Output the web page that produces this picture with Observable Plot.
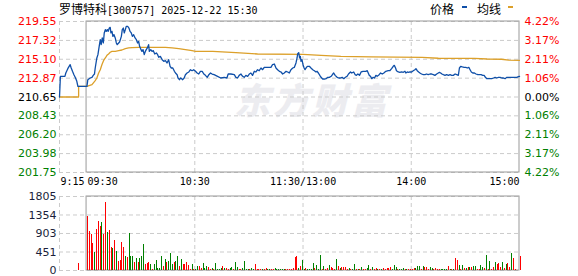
<!DOCTYPE html>
<html><head><meta charset="utf-8">
<script src="https://cdn.jsdelivr.net/npm/d3@7"></script>
<script src="https://cdn.jsdelivr.net/npm/@observablehq/plot@0.6"></script>
<style>
html,body{margin:0;padding:0;background:#fff;}
#wrap{position:relative;width:578px;height:276px;overflow:hidden;background:#fff;}
#price,#vol{position:absolute;left:0;}
#price{top:0;}
#vol{top:190px;}
.hdr{position:absolute;top:2px;line-height:14px;white-space:nowrap;color:#000;}
.cjk{font-family:"Noto Sans CJK SC";font-size:12px;}
.asc{font-family:"DejaVu Sans Mono";font-size:10px;}
.sw{position:absolute;top:6px;width:5px;height:2px;}
#wm{position:absolute;left:234px;top:72px;font-family:"Noto Sans CJK SC";font-weight:900;font-style:italic;font-size:36px;letter-spacing:3px;color:#ececf0;white-space:nowrap;}
</style></head>
<body><div id="wrap">
<div id="wm">东方财富</div>
<div id="price"></div><div id="vol"></div>
<div class="hdr" style="left:59px"><span class="cjk">罗博特科</span><span class="asc">[300757] 2025-12-22 15:30</span></div>
<div class="hdr cjk" style="left:430px">价格</div>
<div class="sw" style="left:462px;background:#0f4fa8"></div>
<div class="hdr cjk" style="left:477px">均线</div>
<div class="sw" style="left:508px;background:#dca02a"></div>
</div>
<script>
const prevClose = 210.65;
const priceTicks = [219.55, 217.32, 215.10, 212.87, 210.65, 208.43, 206.20, 203.98, 201.75];
const pctLabels = ["4.22%","3.17%","2.11%","1.06%","0.00%","1.06%","2.11%","3.17%","4.22%"];
const timeTicks = [-15, 0, 60, 120, 180, 240];
const timeLabels = ["9:15","09:30","10:30","11:30/13:00","14:00","15:00"];
const gridMinutes = [-15, 60, 120, 180];
const volTicks = [0, 451, 903, 1354, 1805];

// [minute from 09:30 (pre-market negative, 13:00 = 120), price]
const pricePoints = [
[-15,210.65],[-14.5,213.09],[-12,213.09],[-11.5,213.48],[-10.4,213.99],[-9.1,214.46],[-8.5,214.07],[-7.8,213.68],[-7,213.28],[-6.3,212.97],[-5.4,212.50],[-4.8,211.91],
[0.2,211.91],[0.7,212.69],[2.0,212.89],[3.0,212.97],[3.7,213.20],[4.4,213.36],[4.8,214.07],[5.7,215.25],[6.3,215.64],[7.0,216.62],[7.6,217.41],[8.1,216.82],[8.7,217.61],[9.3,217.02],[9.8,218.20],[10.4,218.59],[10.9,218.39],[11.5,218.59],[12.0,218.39],[12.6,218.78],[13.1,218.86],[13.5,218.20],[14.1,218.39],[14.6,217.80],[15.2,218.00],[15.9,217.61],[16.5,217.02],[17.0,216.82],[17.8,217.02],[18.3,217.13],[19.3,217.80],[19.8,218.59],[20.4,218.78],[20.9,218.20],[21.5,218.59],[22.0,218.98],[22.8,218.98],[23.5,218.78],[24.1,218.39],[24.8,218.20],[25.4,217.80],[26.1,218.00],[26.9,217.61],[27.6,217.41],[28.3,217.02],[28.9,217.21],[29.4,216.62],[30.2,216.23],[30.7,216.03],[31.3,216.23],[32.0,215.64],[32.6,216.03],[33.1,216.23],[33.7,216.43],[34.4,216.82],[34.8,216.03],[35.6,216.23],[36.3,216.03],[37.0,216.11],[37.8,215.72],[38.7,215.84],[39.4,215.64],[40.0,215.33],[40.9,215.44],[41.9,215.05],[42.8,214.86],[43.7,214.93],[44.6,214.66],[45.5,215.05],[46.3,214.27],[47.0,214.07],[47.8,214.07],[48.7,213.68],[49.3,213.48],[50.2,213.28],[50.7,212.89],[51.5,212.69],[52.2,212.89],[53.3,212.69],[54.1,212.89],[54.8,213.28],[55.7,213.48],[56.7,213.60],[57.6,213.87],[58.5,213.75],[59.4,213.87],[60.4,213.68],[61.3,213.48],[62.2,213.36],[63.1,213.68],[64.1,213.68],[65.0,213.36],[65.9,213.20],[66.9,212.97],[67.8,213.28],[68.7,213.48],[69.6,213.36],
[70.7,213.28],[72.6,213.09],[74.4,212.89],[76.3,212.97],[77.8,212.89],[78.5,213.36],[80.0,213.36],[81.9,213.28],[82.8,212.97],[83.7,212.89],[84.6,213.20],[85.6,213.36],[86.5,213.09],[87.4,212.97],[88.3,213.20],[89.3,213.09],[90.2,213.36],[91.1,213.48],[92.0,213.20],[93.0,213.68],[93.9,213.60],[94.8,213.87],[95.7,213.75],[96.7,214.07],[97.6,213.87],[98.5,214.15],[99.4,214.15],[101.3,214.15],[102.2,214.15],[103.1,214.46],[104.1,214.54],[105.0,214.07],[105.9,213.87],[106.9,213.68],[107.8,213.60],[108.7,213.36],[109.6,213.48],[110.6,213.68],[111.5,213.60],[112.4,213.48],[113.3,213.87],[114.3,214.07],[115.2,214.15],[116.1,214.66],[116.7,215.25],[117.0,215.72],[117.6,215.88],[118.1,215.25],[118.5,215.44],[118.9,214.86],[119.4,215.05],[120.0,214.46],[120.6,214.07],[121.1,213.87],[121.9,214.15],[122.6,214.27],[123.5,214.27],[124.4,214.07],[125.4,213.87],[126.3,213.75],[127.2,213.60],[127.8,213.68],[128.5,213.48],[129.3,213.20],[130.0,212.97],[130.9,212.77],[131.9,212.77],[132.8,212.81],[133.7,212.97],[134.6,212.97],[135.6,213.09],[136.5,213.36],[137.0,213.48],[137.8,213.20],[138.9,212.97],[139.8,212.89],[140.7,212.89],[141.7,212.97],[142.6,212.81],[143.5,212.97],[144.4,213.09],[145.2,213.36],[146.3,213.60],[147.0,213.48],[148.1,213.60],[148.9,213.28],[149.6,213.20],[150.4,213.36],[151.3,213.20],[152.2,213.60],
[153.3,213.68],[154.8,213.68],[155.6,213.75],[156.7,213.20],[157.4,213.09],[158.1,212.81],[158.9,212.97],[159.6,212.89],[160.4,213.20],[161.1,213.09],[162.2,213.28],[163.0,213.48],[163.9,213.36],[164.8,213.48],[165.9,213.68],[167.2,213.75],[168.1,213.75],[169.1,213.99],[170.0,214.27],[170.6,214.38],[171.3,214.07],[171.8,213.75],[172.8,213.60],[173.7,213.56],[174.6,213.60],[175.6,213.56],[176.5,213.68],[177.0,213.48],[177.8,213.60],[178.3,213.56],[179.3,213.60],[180.2,213.60],[181.1,213.75],[182.0,213.87],[182.6,213.99],[183.3,213.75],[184.1,213.60],[184.8,213.48],[185.7,213.36],[186.7,213.28],[187.6,213.28],[188.5,213.36],[189.4,213.28],[190.4,213.36],[191.3,213.36],[192.2,213.28],[193.1,213.20],[194.1,213.36],[195.0,213.48],[195.6,213.56],[196.3,213.48],[197.0,213.36],[197.8,213.28],[198.7,213.20],[199.6,213.28],[200.6,213.20],[201.5,213.28],[202.4,213.20],[203.3,213.20],[204.3,213.36],[205.2,213.28],[206.1,213.20],[206.7,214.07],[207.4,214.27],[208.3,214.19],[209.3,214.15],[210.2,214.15],[211.1,214.07],[211.9,214.15],[212.6,213.87],[213.3,213.60],[214.1,213.48],[215.0,213.48],[215.9,213.36],[216.9,213.28],[217.8,213.28],[218.7,213.28],[219.6,213.20],[220.4,213.20],[221.1,212.97],[221.9,212.81],[222.8,212.81],[223.7,212.81],[224.6,212.81],[225.6,212.89],[226.5,212.97],[227.4,212.89],[228.3,212.97],[229.3,212.97],[230.2,212.89],[231.1,212.89],[232.0,212.81],[233.0,212.97],[234.8,212.97],[236.7,212.97],[238.5,212.97],[239.4,213.05],[240.0,213.09]
];

const avgPoints = [
[-15,210.65],[-4.4,210.65],[-4.4,211.91],[0.2,211.91],[3.0,212.10],[4.8,212.58],[5.7,212.89],[6.7,213.48],[7.6,213.87],[8.5,214.46],[9.4,214.93],[10.4,215.25],[11.3,215.56],[12.2,215.72],[13.1,215.92],[14.1,216.03],[15.9,216.03],[17.8,216.11],[19.6,216.19],[21.5,216.35],[23.3,216.43],[25.2,216.47],[28.9,216.50],[43.7,216.50],[47.4,216.43],[51.1,216.35],[54.8,216.23],[58.5,216.11],[60.4,216.03],[70,216.03],[82.8,215.88],[94.8,215.72],[120,215.68],[130,215.56],[141,215.45],[158,215.38],[186,215.33],[195,215.22],[215,215.21],[222,215.13],[230,215.10],[234,214.99],[240,214.97]
];

// volume per minute, minute 0 (09:30) .. 240 (15:00)
const volumes = [
1322,955,882,661,441,1004,1200,1078,1175,882, 1665,931,980,563,539,735,465,220,245,686,
563,343,318,906,343,343,196,294,196,294, 343,637,147,171,196,147,24,147,245,49,
49,343,98,269,196,220,416,147,196,220, 343,98,269,147,147,196,122,24,147,24,
24,98,98,49,171,49,98,73,24,49,
24,171,24,24,49,98,49,49,24,49, 73,24,196,73,24,24,49,220,24,24,
24,49,24,147,24,24,24,24,24,49, 24,24,24,24,49,24,24,24,24,24,
24,24,24,24,49,318,343,49,98,245, 24,49,24,24,24,171,49,122,24,367,
24,98,24,49,122,73,49,24,269,98, 49,73,73,73,24,49,24,24,147,24, 24,24,73,24,
24,49,122,24,73,24,49,24,24,24, 49,24,49,49,73,24,122,73,24,24, 24,
49,24,24,24,24,24,49,49,98,98, 24,98,73,73,24,73,49,24,49,24, 24,
24,24,24,24,98,24,24,24,294,245, 122,24,122,49,49,73,73,73,98,98, 24,
24,122,73,49,367,24,220,24,73,196, 147,171,73,196,49,147,171,73,416,294,24,
0,0,343
];
// r = up (red), g = down (green)
const volumeDir = (
"rrrrgrrrgr"+"rgrrgrgrrr"+"rgrgggrgrg"+"ggrrrgrggg"+"ggrgrgggrg"+"grgrrrrrgr"+"ggrrgggrrg"+
"rggggrgrrg"+"grggrrgggg"+"rggrrrrgrr"+"ggrrgggggg"+"rrrrrrrgrg"+"grggggrggg"+"rgrrgrrrgr"+"grrrrgrggr"+"grgr"+
"rggrgrrgrg"+"rrrrrgggrg"+"g"+"grgrrrrggg"+"rgrrrggrrr"+"r"+"ggggrgrgrr"+"grgrgrgrgg"+"r"+"rggrgrgrrg"+"rrrgrgrrgrr"+
"ggr").split("");
const auctionMinute = -5, auctionVolume = 171;

const RED = "#ff0000", GREEN = "#008000", BLUE = "#0f4fa8", GOLD = "#dca02a";
const xDomain = [timeTicks[0], timeTicks[timeTicks.length - 1]];
const yDomain = [priceTicks[priceTicks.length - 1], priceTicks[0]];
const session = [{x1: timeTicks[1], x2: timeTicks[timeTicks.length - 1]}];
const tickColor = v => v > prevClose ? RED : v < prevClose ? GREEN : "#000";
const dash = {stroke: "#cbcbcb", strokeDasharray: "4,3"};

const priceData = pricePoints.map(([m, v]) => ({m, v}));
const avgData = avgPoints.map(([m, v]) => ({m, v}));
const volData = volumes.map((v, i) => ({m: i, v, c: volumeDir[i] === "r" ? RED : GREEN})).filter(d => d.v > 0);
volData.unshift({m: auctionMinute, v: auctionVolume, c: RED});

const label = i => timeLabels[i];
const p1 = Plot.plot({
  width: 578, height: 190,
  marginLeft: 59, marginRight: 59, marginTop: 21, marginBottom: 18,
  x: {domain: xDomain, axis: null},
  y: {domain: yDomain, axis: null},
  color: {type: "identity"},
  style: {background: "transparent", fontFamily: "DejaVu Sans", fontSize: "11px", overflow: "visible"},
  marks: [
    Plot.ruleY(priceTicks, dash),
    Plot.ruleX(gridMinutes, dash),
    Plot.rect(session, {x1: "x1", x2: "x2", y1: yDomain[0], y2: yDomain[1], fill: "none", stroke: "#999", strokeWidth: 1}),
    Plot.line(avgData, {x: "m", y: "v", stroke: GOLD, strokeWidth: 1.3}),
    Plot.line(priceData, {x: "m", y: "v", stroke: BLUE, strokeWidth: 1.3}),
    Plot.axisY(priceTicks, {anchor: "left", label: null, tickSize: 0, tickPadding: 3, fontSize: 11, tickFormat: d => d.toFixed(2), fill: tickColor}),
    Plot.axisY(priceTicks, {anchor: "right", label: null, tickSize: 0, tickPadding: 5, fontSize: 11, tickFormat: d => pctLabels[priceTicks.indexOf(d)], fill: tickColor}),
    Plot.text([0, 1], {x: i => timeTicks[i], text: label, frameAnchor: "bottom", lineAnchor: "top", textAnchor: "start", dy: 5, dx: 1, fontFamily: "DejaVu Sans Mono", fontSize: 10, fill: "#000"}),
    Plot.text([2, 3, 4], {x: i => timeTicks[i], text: label, frameAnchor: "bottom", lineAnchor: "top", textAnchor: "middle", dy: 5, fontFamily: "DejaVu Sans Mono", fontSize: 10, fill: "#000"}),
    Plot.text([5], {x: i => timeTicks[i], text: label, frameAnchor: "bottom", lineAnchor: "top", textAnchor: "end", dy: 5, fontFamily: "DejaVu Sans Mono", fontSize: 10, fill: "#000"})
  ]
});
document.getElementById("price").appendChild(p1);

const p2 = Plot.plot({
  width: 578, height: 86,
  marginLeft: 59, marginRight: 59, marginTop: 6, marginBottom: 6,
  x: {domain: xDomain, axis: null},
  y: {domain: [volTicks[0], volTicks[volTicks.length - 1]], axis: null},
  color: {type: "identity"},
  style: {background: "transparent", fontFamily: "DejaVu Sans", fontSize: "11px", overflow: "visible"},
  marks: [
    Plot.ruleY(volTicks, dash),
    Plot.ruleX(gridMinutes, dash),
    Plot.rect(session, {x1: "x1", x2: "x2", y1: volTicks[0], y2: volTicks[volTicks.length - 1], fill: "none", stroke: "#999", strokeWidth: 1}),
    Plot.ruleX(volData, {x: "m", y1: 0, y2: "v", stroke: "c", strokeWidth: 1, dx: 1, shapeRendering: "crispEdges"}),
    Plot.axisY(volTicks, {anchor: "left", label: null, tickSize: 0, tickPadding: 3, fontSize: 11, fill: "#1a1f3a", tickFormat: d => String(d)})
  ]
});
document.getElementById("vol").appendChild(p2);
</script>
</body></html>
